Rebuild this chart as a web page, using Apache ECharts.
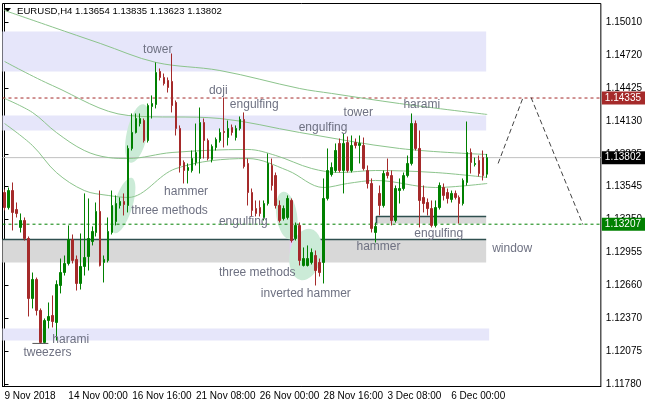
<!DOCTYPE html>
<html><head><meta charset="utf-8">
<script src="https://cdn.jsdelivr.net/npm/echarts@6/dist/echarts.min.js"></script>
<style>html,body{margin:0;padding:0;background:#fff;}#c{width:645px;height:407px;}</style>
</head><body><div id="c"></div>
<script>
// ---------------- data ----------------
const symbolName = 'EURUSD,H4';
const slotCount = 150; // H4 bars incl. empty right margin
const xTickIndex = [0, 16, 32, 48, 64, 80, 96, 112];
const xTickLabels = ['9 Nov 2018', '14 Nov 00:00', '16 Nov 16:00', '21 Nov 08:00', '26 Nov 00:00', '28 Nov 16:00', '3 Dec 08:00', '6 Dec 00:00'];
const yTickValues = [1.15010, 1.14720, 1.14425, 1.14130, 1.13835, 1.13545, 1.13250, 1.12955, 1.12660, 1.12370, 1.12075, 1.11780];
const yRange = [1.11756, 1.15180];

// [open, close, low, high]
const candles = [
[1.13490,1.13356,1.13330,1.13517],[1.13356,1.13508,1.13338,1.13535],[1.13508,1.13312,1.13151,1.13580],[1.13338,1.13303,1.13267,1.13401],
[1.13178,1.13240,1.13133,1.13303],[1.13240,1.13079,1.13061,1.13267],[1.13079,1.12543,1.12382,1.13097],[1.12543,1.12713,1.12454,1.12775],
[1.12713,1.12436,1.12391,1.12730],[1.12436,1.12150,1.12141,1.12454],[1.12150,1.12346,1.12141,1.12364],[1.12346,1.12382,1.12275,1.12507],
[1.12391,1.12337,1.12284,1.12570],[1.12328,1.12668,1.12167,1.12705],[1.12659,1.12775,1.12588,1.12900],[1.12775,1.12856,1.12748,1.12927],
[1.12856,1.13070,1.12838,1.13196],[1.13070,1.12883,1.12856,1.13115],[1.12892,1.12677,1.12614,1.12927],[1.12677,1.12829,1.12623,1.13124],
[1.12829,1.12909,1.12748,1.13482],[1.12918,1.13079,1.12793,1.13437],[1.13052,1.13142,1.13017,1.13187],[1.13133,1.13321,1.13097,1.13401],
[1.13321,1.12838,1.12829,1.13508],[1.12865,1.12892,1.12686,1.12927],[1.12883,1.13142,1.12865,1.13267],[1.13133,1.13374,1.13115,1.13508],
[1.13231,1.13392,1.13196,1.13464],[1.13374,1.13410,1.13347,1.13446],[1.13410,1.13383,1.13285,1.13482],[1.13374,1.13884,1.13312,1.13911],
[1.13884,1.14027,1.13866,1.14197],[1.14027,1.14152,1.14018,1.14197],[1.14107,1.14152,1.14081,1.14197],[1.14134,1.13955,1.13937,1.14152],
[1.13955,1.14268,1.13937,1.14286],[1.14259,1.14286,1.14152,1.14358],[1.14277,1.14563,1.14242,1.14653],[1.14572,1.14519,1.14492,1.14599],
[1.14519,1.14465,1.14447,1.14554],[1.14492,1.14429,1.14384,1.14519],[1.14483,1.14268,1.14206,1.14733],[1.14295,1.14063,1.14000,1.14313],
[1.14063,1.13732,1.13669,1.14090],[1.13759,1.13687,1.13571,1.13777],[1.13687,1.13714,1.13571,1.13750],[1.13687,1.13794,1.13669,1.13866],
[1.13759,1.13848,1.13732,1.14107],[1.13794,1.14116,1.13660,1.14250],[1.14116,1.13955,1.13794,1.14152],[1.13955,1.13794,1.13777,1.13973],
[1.13785,1.13902,1.13759,1.13920],[1.13893,1.13964,1.13866,1.13982],[1.13955,1.14027,1.13937,1.14063],[1.14036,1.14027,1.13893,1.14340],
[1.13982,1.14063,1.13911,1.14134],[1.14072,1.14027,1.14000,1.14098],[1.13982,1.14063,1.13955,1.14090],[1.14063,1.14143,1.14045,1.14170],
[1.14143,1.13723,1.13705,1.14206],[1.13750,1.13490,1.13374,1.13794],[1.13490,1.13330,1.13276,1.13526],[1.13347,1.13303,1.13276,1.13419],
[1.13356,1.13303,1.13276,1.13419],[1.13267,1.13392,1.13240,1.13419],[1.13392,1.13750,1.13374,1.13839],[1.13732,1.13553,1.13508,1.13794],
[1.13642,1.13374,1.13347,1.13669],[1.13374,1.13240,1.13222,1.13419],[1.13258,1.13347,1.13240,1.13374],[1.13267,1.13437,1.13249,1.13464],
[1.13419,1.13061,1.13043,1.13437],[1.13079,1.13196,1.13061,1.13222],[1.13196,1.12883,1.12838,1.13222],[1.12838,1.12900,1.12829,1.12999],
[1.12838,1.12900,1.12829,1.13017],[1.12865,1.12954,1.12847,1.12990],[1.12927,1.12793,1.12659,1.12972],[1.12865,1.12775,1.12739,1.12900],
[1.12865,1.13437,1.12677,1.13616],[1.13437,1.13687,1.13419,1.13884],[1.13651,1.13714,1.13633,1.13759],[1.13687,1.13866,1.13669,1.13929],
[1.13929,1.13687,1.13669,1.13973],[1.13687,1.13929,1.13482,1.14018],[1.13937,1.13687,1.13669,1.13991],[1.13687,1.13911,1.13669,1.14000],
[1.13937,1.13911,1.13884,1.13973],[1.13911,1.13929,1.13750,1.14000],[1.13911,1.13705,1.13687,1.13982],[1.13687,1.13571,1.13526,1.13732],
[1.13571,1.13169,1.13133,1.13616],[1.13133,1.13187,1.13043,1.13222],[1.13482,1.13374,1.13285,1.13553],[1.13374,1.13660,1.13356,1.13687],
[1.13669,1.13642,1.13616,1.13794],[1.13642,1.13240,1.13196,1.13687],[1.13240,1.13526,1.13222,1.13553],[1.13508,1.13526,1.13392,1.13616],
[1.13526,1.13642,1.13508,1.13669],[1.13642,1.13750,1.13625,1.13821],[1.13750,1.14107,1.13732,1.14197],[1.14107,1.13884,1.13866,1.14134],
[1.13884,1.13419,1.13178,1.14045],[1.13446,1.13392,1.13312,1.13553],[1.13401,1.13347,1.13285,1.13437],[1.13347,1.13196,1.13178,1.13419],
[1.13196,1.13356,1.13178,1.13419],[1.13356,1.13553,1.13338,1.13580],[1.13535,1.13464,1.13419,1.13571],[1.13490,1.13437,1.13392,1.13526],
[1.13428,1.13482,1.13401,1.13508],[1.13482,1.13446,1.13428,1.13508],[1.13446,1.13392,1.13213,1.13464],[1.13392,1.13598,1.13374,1.13616],
[1.13580,1.13848,1.13553,1.14125],[1.13848,1.13759,1.13660,1.13884],[1.13741,1.13750,1.13723,1.13803],[1.13777,1.13660,1.13633,1.13821],
[1.13803,1.13642,1.13598,1.13866],[1.13654,1.13802,1.13623,1.13835]
];

// moving averages read at sample bars: [barIndex, price]
const maSlowest = [[0,1.15118],[12,1.14970],[24,1.14823],[38,1.14653],[54,1.14581],[74,1.14420],[82,1.14376],[99,1.14286],[121,1.14188]];
const maSlow = [[0,1.14662],[12,1.14447],[31,1.14179],[54,1.14152],[74,1.14027],[99,1.13884],[121,1.13830]];
const maMid = [[0,1.14331],[7,1.14206],[13,1.14027],[20,1.13866],[26,1.13803],[31,1.13794],[42,1.13848],[61,1.13875],[68,1.13821],[77,1.13705],[84,1.13669],[93,1.13687],[108,1.13669],[121,1.13625]];
const maFast = [[0,1.14107],[7,1.13911],[13,1.13669],[20,1.13508],[26,1.13464],[31,1.13446],[43,1.13705],[61,1.13794],[71,1.13687],[80,1.13535],[86,1.13571],[93,1.13598],[108,1.13535],[121,1.13571]];

const resistanceLevel = 1.14335;
const supportLevel = 1.13207;

// projected path (bar index, price)
const projectionUp = [[123.75,1.13750],[130,1.14340]];
const projectionDown = [[132,1.14340],[145,1.13204]];

// zones: [fromBar, toBar, priceTop, priceBottom]
const lavenderZones = [[-0.5,120.75,1.14930,1.14572],[-0.5,120.75,1.14179,1.14045],[-0.5,121.5,1.12275,1.12167]];
const windowZone = [-0.5,120.75,1.13070,1.12865];
const smallZone = [93.25,120.75,1.13276,1.13213];
const pinkZone = [71.5,79.5,1.13070,1.12865];
// ellipses: [centerBar, centerPrice, halfWidthBars, halfHeightPrice, rotationRad]
const highlightEllipses = [[33.25,1.14018,2.6,0.00268,-0.22],[29.75,1.13374,2.3,0.00259,-0.30],[70.75,1.13285,2.6,0.00215,0.15],[75.5,1.12936,4.0,0.00232,-0.20]];
const tweezerMark = [[7,1.12141],[11,1.12141]];

const annotationText = ['tower','doji','engulfing','tower','harami','engulfing','hammer','three methods','engulfing','hammer','engulfing','window','three methods','inverted hammer','harami','tweezers'];
const annotationAt = [[34.75,1.14769],[51.25,1.14402],[56.5,1.14277],[85,1.14206],[100,1.14277],[73.75,1.14072],[40,1.13499],[31.75,1.13330],[53.75,1.13231],[88.25,1.13008],[102.75,1.13124],[122.25,1.12990],[53.75,1.12775],[64.25,1.12588],[12,1.12176],[4.75,1.12060]];

// ---------------- chart ----------------
const tickSet = new Set(xTickIndex);
const tickMap = {}; xTickIndex.forEach((k, j) => tickMap[k] = xTickLabels[j]);
const cats = Array.from({length: slotCount}, (_, i) => String(i));
const last = candles[candles.length - 1];
const lastPrice = last[1];
const FONT = '"Liberation Sans", Arial, sans-serif';

function areaItems(zs) {
  return zs.map(z => [{xAxis: z[0], yAxis: z[2]}, {xAxis: z[1], yAxis: z[3]}]);
}
function levelSeries(v, color, type, bg, z) {
  return {type: 'line', xAxisIndex: 1, z: z, silent: true, symbol: 'none',
    data: [[-0.5, v], [slotCount - 0.5, v]], lineStyle: {color: color, type: type, width: 1},
    endLabel: {show: true, distance: 1, formatter: () => v.toFixed(5), color: '#fff',
      backgroundColor: bg, padding: [2, 6, 1, 3], fontSize: 10, fontFamily: FONT, align: 'left', verticalAlign: 'middle'}};
}

const chart = echarts.init(document.getElementById('c'));
chart.setOption({
  animation: false,
  backgroundColor: '#fff',
  textStyle: {fontFamily: FONT},
  grid: {left: 2.5, right: 42.5, top: 3.5, bottom: 20.5, show: true, borderColor: '#000', borderWidth: 1},
  xAxis: [
    {type: 'category', data: cats, boundaryGap: true,
     axisLine: {lineStyle: {color: '#000', width: 1}},
     axisTick: {interval: (i) => tickSet.has(i), alignWithLabel: true, length: 3, lineStyle: {color: '#000'}},
     axisLabel: {interval: (i) => tickSet.has(i), formatter: (v) => tickMap[+v] || '', align: 'left', color: '#000', fontSize: 10, margin: 5, fontFamily: FONT},
     splitLine: {show: false}},
    {type: 'value', min: -0.5, max: slotCount - 0.5, show: false}
  ],
  yAxis: [{type: 'value', position: 'right', min: yRange[0], max: yRange[1],
    axisLine: {show: true, lineStyle: {color: '#000'}},
    axisTick: {show: true, customValues: yTickValues, length: 4, lineStyle: {color: '#000'}},
    axisLabel: {customValues: yTickValues, formatter: (v) => v.toFixed(5), color: '#000', fontSize: 10, margin: 5, fontFamily: FONT},
    splitLine: {show: false}}],
  graphic: [
    {type: 'polygon', shape: {points: [[4, 8], [11, 8], [7.5, 12]]}, style: {fill: '#000'}},
    {type: 'text', x: 17, y: 11, style: {text: symbolName + ' ' + [last[0], last[3], last[2], last[1]].map(v => v.toFixed(5)).join(' '),
      fill: '#000', font: '9.6px ' + FONT, verticalAlign: 'middle'}}
  ],
  series: [
    {type: 'line', xAxisIndex: 1, data: [], z: 1, silent: true,
     markArea: {silent: true, itemStyle: {color: '#e6e6fa'}, data: areaItems(lavenderZones)}},
    {type: 'line', xAxisIndex: 1, data: [], z: 1, silent: true,
     markArea: {silent: true, itemStyle: {color: '#d8d8d8'}, data: areaItems([windowZone, smallZone])}},
    {type: 'line', xAxisIndex: 1, z: 1.5, silent: true, symbol: 'none',
     data: [[windowZone[0], windowZone[2]], [windowZone[1], windowZone[2]]], lineStyle: {color: '#2f4f4f', width: 1.6}},
    {type: 'line', xAxisIndex: 1, z: 1.5, silent: true, symbol: 'none',
     data: [[smallZone[0], smallZone[3]], [smallZone[0], smallZone[2]], [smallZone[1], smallZone[2]]], lineStyle: {color: '#2f4f4f', width: 1.6}},
    {type: 'custom', xAxisIndex: 1, z: 2, silent: true, data: highlightEllipses,
     renderItem: (p, api) => {
       const c = api.coord([api.value(0), api.value(1)]);
       const s = api.size([api.value(2), api.value(3)]);
       return {type: 'circle', x: c[0], y: c[1], scaleX: s[0], scaleY: s[1], rotation: api.value(4),
         shape: {cx: 0, cy: 0, r: 1}, style: {fill: '#cbebd7'}};
     }},
    {type: 'line', xAxisIndex: 1, data: [], z: 3, silent: true,
     markArea: {silent: true, itemStyle: {color: '#e6cdf5'}, data: areaItems([pinkZone])}},
    levelSeries(resistanceLevel, '#a52a2a', [3, 3], '#a52a2a', 3.5),
    levelSeries(lastPrice, '#c0c0c0', 'solid', '#000', 3.5),
    levelSeries(supportLevel, '#008000', [3, 3], '#008000', 3.5),
    ...[maSlowest, maSlow, maMid, maFast].map(d => ({type: 'line', xAxisIndex: 1, z: 4, silent: true, symbol: 'none', smooth: 0.35,
      data: d, lineStyle: {color: '#8cc48c', width: 1}})),
    {type: 'candlestick', xAxisIndex: 0, z: 5, barWidth: 2, silent: true, data: candles,
     itemStyle: {color: '#008000', color0: '#a52a2a', borderColor: '#008000', borderColor0: '#a52a2a', borderWidth: 1}},
    ...[projectionUp, projectionDown].map(d => ({type: 'line', xAxisIndex: 1, z: 4, silent: true, symbol: 'none',
      data: d, lineStyle: {color: '#444', width: 1, type: [5, 3]}})),
    {type: 'line', xAxisIndex: 1, z: 6, silent: true, symbol: 'none', data: tweezerMark, lineStyle: {color: '#555', width: 1}},
    {type: 'custom', xAxisIndex: 1, z: 7, silent: true, data: annotationAt,
     renderItem: (p, api) => {
       const c = api.coord([api.value(0), api.value(1)]);
       return {type: 'text', x: c[0], y: c[1], style: {text: annotationText[p.dataIndex], fill: '#6e7182',
         font: '12px ' + FONT, align: 'left', verticalAlign: 'middle'}};
     }}
  ]
});
</script>
</body></html>
